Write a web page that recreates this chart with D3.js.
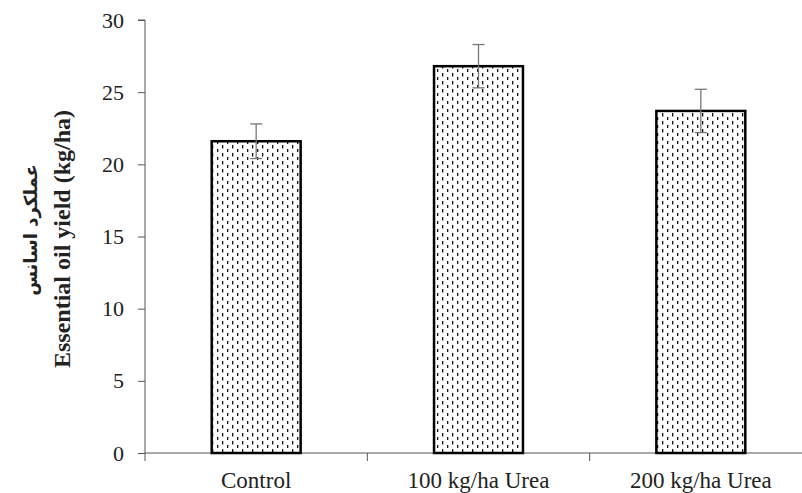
<!DOCTYPE html>
<html>
<head>
<meta charset="utf-8">
<script src="https://cdn.jsdelivr.net/npm/d3@7/dist/d3.min.js"></script>
<style>
  body { margin: 0; background: #fff; }
  svg { display: block; font-family: "Liberation Serif", "Times New Roman", serif; }
</style>
</head>
<body>
<div id="chart"></div>
<script>
const categories = ['Control', '100 kg/ha Urea', '200 kg/ha Urea']
const values = [21.6, 26.8, 23.7]
const errors = [1.2, 1.5, 1.5]
const yTicks = [0, 5, 10, 15, 20, 25, 30]

const W = 802, H = 493
const mLeft = 145, mTop = 20, mBottom = 453

const svg = d3.select('#chart').append('svg')
  .attr('width', W).attr('height', H)

// dotted fill
const pat = svg.append('defs').append('pattern')
  .attr('id', 'dash')
  .attr('patternUnits', 'userSpaceOnUse')
  .attr('width', 10).attr('height', 8)
pat.append('rect').attr('width', 10).attr('height', 8).attr('fill', '#fff')
pat.append('rect').attr('x', 2).attr('y', 1).attr('width', 1.3).attr('height', 3.5).attr('fill', '#111')
pat.append('rect').attr('x', 7).attr('y', 5).attr('width', 1.3).attr('height', 3.5).attr('fill', '#111')

const x = d3.scaleBand().domain(categories).range([mLeft, 812]).paddingInner(0.6).paddingOuter(0.3)
const xb = d3.scaleBand().domain(categories).range([mLeft, 812])
const y = d3.scaleLinear().domain([0, 30]).range([mBottom, mTop])

// y axis
const ya = svg.append('g').attr('transform', `translate(${mLeft},0)`)
  .call(d3.axisLeft(y).tickValues(yTicks).tickSize(7).tickPadding(14))
ya.select('.domain').attr('stroke', '#555').attr('d', `M-7,${mTop}H0V${mBottom + 8}`)
ya.selectAll('.tick line').attr('stroke', '#555')
ya.selectAll('.tick text').attr('font-size', 22).attr('fill', '#222')
  .attr('font-family', '"Liberation Serif", serif')

// x axis
svg.append('line').attr('x1', mLeft).attr('x2', W).attr('y1', mBottom).attr('y2', mBottom)
  .attr('stroke', '#555')
categories.slice(1).forEach(c => {
  svg.append('line').attr('x1', xb(c)).attr('x2', xb(c)).attr('y1', mBottom).attr('y2', mBottom + 8)
    .attr('stroke', '#555')
})
svg.selectAll('.xl').data(categories).enter().append('text')
  .attr('x', d => xb(d) + xb.bandwidth() / 2)
  .attr('y', 488)
  .attr('text-anchor', 'middle')
  .attr('font-size', 23)
  .attr('fill', '#222')
  .text(d => d)

// bars
svg.selectAll('.bar').data(values).enter().append('rect')
  .attr('x', (d, i) => x(categories[i]))
  .attr('y', d => y(d))
  .attr('width', x.bandwidth())
  .attr('height', d => y(0) - y(d))
  .attr('fill', 'url(#dash)')
  .attr('stroke', '#000')
  .attr('stroke-width', 2.5)

// error bars
const eb = svg.selectAll('.err').data(values).enter().append('g')
  .attr('stroke', '#777').attr('stroke-width', 1.3)
eb.append('line')
  .attr('x1', (d, i) => x(categories[i]) + x.bandwidth() / 2)
  .attr('x2', (d, i) => x(categories[i]) + x.bandwidth() / 2)
  .attr('y1', (d, i) => y(d + errors[i]))
  .attr('y2', (d, i) => y(d - errors[i]))
eb.append('line')
  .attr('x1', (d, i) => x(categories[i]) + x.bandwidth() / 2 - 6)
  .attr('x2', (d, i) => x(categories[i]) + x.bandwidth() / 2 + 6)
  .attr('y1', (d, i) => y(d + errors[i]))
  .attr('y2', (d, i) => y(d + errors[i]))
eb.append('line')
  .attr('x1', (d, i) => x(categories[i]) + x.bandwidth() / 2 - 6)
  .attr('x2', (d, i) => x(categories[i]) + x.bandwidth() / 2 + 6)
  .attr('y1', (d, i) => y(d - errors[i]))
  .attr('y2', (d, i) => y(d - errors[i]))

// y label
svg.append('text')
  .attr('transform', 'translate(37,230) rotate(-90)')
  .attr('text-anchor', 'middle')
  .attr('font-size', 18).attr('font-weight', 'bold').attr('fill', '#222')
  .attr('font-family', '"DejaVu Sans", "Noto Sans", sans-serif')
  .text('عملکرد اسانس')
svg.append('text')
  .attr('transform', 'translate(70,239) rotate(-90)')
  .attr('text-anchor', 'middle')
  .attr('font-size', 24).attr('font-weight', 'bold').attr('fill', '#222')
  .text('Essential oil yield (kg/ha)')
</script>
</body>
</html>
